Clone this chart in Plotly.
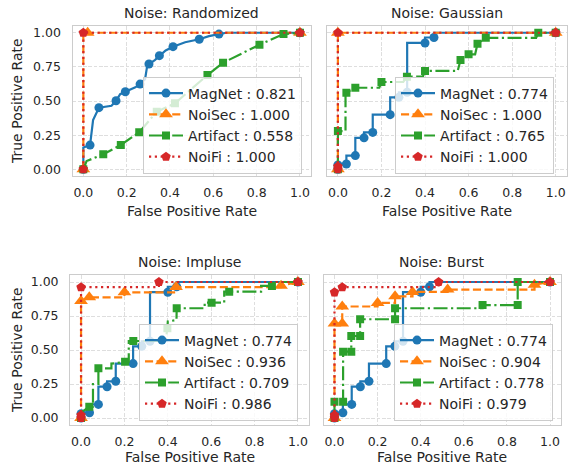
import plotly.graph_objects as go

# ---------------- data ----------------
panel_titles = ["Noise: Randomized", "Noise: Gaussian", "Noise: Impluse", "Noise: Burst"]
series_names = ["MagNet", "NoiSec", "Artifact", "NoiFi"]

x_ticks = [0.0, 0.2, 0.4, 0.6, 0.8, 1.0]
x_tick_labels = ["0.0", "0.2", "0.4", "0.6", "0.8", "1.0"]
y_ticks = [0.0, 0.25, 0.5, 0.75, 1.0]
y_tick_labels = ["0.00", "0.25", "0.50", "0.75", "1.00"]

# AUC values shown in each legend (panel order)
auc_magnet = [0.821, 0.774, 0.774, 0.774]
auc_noisec = [1.000, 1.000, 0.936, 0.904]
auc_artifact = [0.558, 0.765, 0.709, 0.778]
auc_noifi = [1.000, 1.000, 0.986, 0.979]

# --- Randomized ---
rand_magnet_fpr = [0, 0, 0.031, 0.045, 0.072, 0.13, 0.151, 0.17, 0.194, 0.24, 0.262, 0.285, 0.295, 0.303, 0.33, 0.351, 0.38, 0.414, 0.47, 0.535, 0.58, 0.626, 0.66, 1.0]
rand_magnet_tpr = [0, 0.16, 0.177, 0.36, 0.451, 0.465, 0.502, 0.55, 0.568, 0.60, 0.624, 0.66, 0.76, 0.771, 0.80, 0.832, 0.87, 0.898, 0.93, 0.952, 0.975, 0.990, 1.0, 1.0]
rand_magnet_mk = [1, 0, 1, 0, 1, 0, 1, 0, 1, 0, 1, 0, 0, 1, 0, 1, 0, 1, 0, 1, 0, 1, 0, 1]

rand_noisec_fpr = [0, 0, 0.02, 1.0]
rand_noisec_tpr = [0, 1.0, 1.0, 1.0]
rand_noisec_mk = [1, 0, 1, 1]

rand_artifact_fpr = [0, 0.015, 0.092, 0.173, 0.258, 0.339, 0.423, 0.573, 0.645, 0.813, 0.924, 1.0]
rand_artifact_tpr = [0, 0.06, 0.110, 0.178, 0.271, 0.422, 0.483, 0.690, 0.780, 0.912, 0.990, 1.0]
rand_artifact_mk = [1, 0, 1, 1, 1, 1, 1, 1, 1, 1, 1, 1]

rand_noifi_fpr = [0, 0, 1.0]
rand_noifi_tpr = [0, 1.0, 1.0]
rand_noifi_mk = [1, 1, 1]

# --- MagNet curve shared by Gaussian / Impluse / Burst ---
magnet_fpr = [0, 0, 0, 0.039, 0.039, 0.080, 0.080, 0.120, 0.120, 0.160, 0.160, 0.240, 0.240, 0.280, 0.280, 0.318, 0.318, 0.400, 0.400, 0.441, 0.441, 1.0]
magnet_tpr = [0, 0.031, 0.039, 0.039, 0.10, 0.10, 0.23, 0.23, 0.27, 0.27, 0.40, 0.40, 0.527, 0.527, 0.564, 0.564, 0.925, 0.925, 0.965, 0.965, 1.0, 1.0]
magnet_mk = [1, 1, 0, 1, 0, 1, 0, 1, 0, 1, 0, 1, 0, 1, 0, 1, 0, 1, 0, 1, 0, 1]

# --- Gaussian ---
gaus_noisec_fpr = [0, 0, 1.0]
gaus_noisec_tpr = [0, 1.0, 1.0]
gaus_noisec_mk = [1, 1, 1]

gaus_artifact_fpr = [0, 0, 0.035, 0.035, 0.039, 0.080, 0.190, 0.200, 0.300, 0.317, 0.390, 0.400, 0.550, 0.563, 0.600, 0.630, 0.641, 0.679, 0.910, 0.920, 1.0]
gaus_artifact_tpr = [0, 0.280, 0.280, 0.555, 0.561, 0.597, 0.597, 0.639, 0.639, 0.678, 0.678, 0.720, 0.720, 0.800, 0.842, 0.842, 0.920, 0.963, 0.963, 1.0, 1.0]
gaus_artifact_mk = [1, 1, 0, 0, 1, 1, 0, 1, 0, 1, 0, 1, 0, 1, 1, 0, 1, 1, 0, 1, 1]

gaus_noifi_fpr = [0, 0, 0, 1.0]
gaus_noifi_tpr = [0, 0.02, 1.0, 1.0]
gaus_noifi_mk = [1, 1, 1, 1]

# --- Impluse ---
imp_noisec_fpr = [0, 0, 0.038, 0.200, 0.200, 0.438, 0.438, 0.922, 0.922, 1.0]
imp_noisec_tpr = [0, 0.860, 0.887, 0.887, 0.924, 0.924, 0.963, 0.963, 0.972, 1.0]
imp_noisec_mk = [1, 1, 1, 0, 1, 0, 1, 0, 1, 1]

imp_artifact_fpr = [0, 0, 0.038, 0.055, 0.055, 0.080, 0.080, 0.140, 0.140, 0.203, 0.220, 0.220, 0.241, 0.390, 0.398, 0.400, 0.440, 0.441, 0.570, 0.570, 0.602, 0.660, 0.660, 0.683, 0.830, 0.830, 0.880, 0.900, 1.0]
imp_artifact_tpr = [0, 0.04, 0.083, 0.083, 0.25, 0.25, 0.365, 0.365, 0.40, 0.414, 0.414, 0.566, 0.566, 0.566, 0.660, 0.710, 0.720, 0.807, 0.807, 0.848, 0.848, 0.848, 0.929, 0.929, 0.929, 0.971, 0.971, 1.0, 1.0]
imp_artifact_mk = [1, 0, 1, 0, 0, 0, 1, 0, 0, 1, 0, 0, 1, 0, 1, 0, 0, 1, 0, 0, 1, 0, 0, 1, 0, 0, 1, 0, 1]

imp_noifi_fpr = [0, 0, 0, 0.359, 0.359, 1.0]
imp_noifi_tpr = [0, 0.02, 0.962, 0.962, 1.0, 1.0]
imp_noifi_mk = [1, 1, 1, 0, 1, 1]

# --- Burst ---
bur_noisec_fpr = [0, 0, 0.036, 0.036, 0.200, 0.200, 0.281, 0.281, 0.362, 0.362, 0.525, 0.525, 0.928, 0.928, 1.0]
bur_noisec_tpr = [0, 0.694, 0.694, 0.820, 0.820, 0.846, 0.846, 0.895, 0.895, 0.927, 0.927, 0.944, 0.944, 0.980, 1.0]
bur_noisec_mk = [1, 1, 1, 1, 0, 1, 0, 1, 0, 1, 0, 1, 0, 1, 1]

bur_artifact_fpr = [0, 0, 0.040, 0.040, 0.078, 0.078, 0.119, 0.119, 0.281, 0.281, 0.687, 0.687, 0.850, 0.850, 1.0]
bur_artifact_tpr = [0, 0.120, 0.120, 0.488, 0.488, 0.603, 0.603, 0.726, 0.726, 0.807, 0.807, 0.830, 0.830, 1.0, 1.0]
bur_artifact_mk = [1, 1, 1, 1, 1, 1, 1, 1, 1, 1, 0, 1, 1, 1, 1]

bur_noifi_fpr = [0, 0, 0, 0.036, 0.483, 0.483, 1.0]
bur_noifi_tpr = [0, 0.02, 0.924, 0.962, 0.962, 1.0, 1.0]
bur_noifi_mk = [1, 1, 1, 1, 0, 1, 1]

panels = [
    [(rand_magnet_fpr, rand_magnet_tpr, rand_magnet_mk),
     (rand_noisec_fpr, rand_noisec_tpr, rand_noisec_mk),
     (rand_artifact_fpr, rand_artifact_tpr, rand_artifact_mk),
     (rand_noifi_fpr, rand_noifi_tpr, rand_noifi_mk)],
    [(magnet_fpr, magnet_tpr, magnet_mk),
     (gaus_noisec_fpr, gaus_noisec_tpr, gaus_noisec_mk),
     (gaus_artifact_fpr, gaus_artifact_tpr, gaus_artifact_mk),
     (gaus_noifi_fpr, gaus_noifi_tpr, gaus_noifi_mk)],
    [(magnet_fpr, magnet_tpr, magnet_mk),
     (imp_noisec_fpr, imp_noisec_tpr, imp_noisec_mk),
     (imp_artifact_fpr, imp_artifact_tpr, imp_artifact_mk),
     (imp_noifi_fpr, imp_noifi_tpr, imp_noifi_mk)],
    [(magnet_fpr, magnet_tpr, magnet_mk),
     (bur_noisec_fpr, bur_noisec_tpr, bur_noisec_mk),
     (bur_artifact_fpr, bur_artifact_tpr, bur_artifact_mk),
     (bur_noifi_fpr, bur_noifi_tpr, bur_noifi_mk)],
]
aucs = [auc_magnet, auc_noisec, auc_artifact, auc_noifi]

# ---------------- styles ----------------
FONT = "DejaVu Sans"
TXT = "#262626"
LW = 2.2
styles = [
    dict(color="#1f77b4", dash="solid", symbol="circle", size=9),
    dict(color="#ff7f0e", dash="8.1px,3.5px", symbol="triangle-up", size=12),
    dict(color="#2ca02c", dash="14px,3.5px,2.2px,3.5px", symbol="square", size=8),
    dict(color="#d62728", dash="2.2px,3.6px", symbol="pentagon", size=10),
]

W, H = 568, 469
def px_x(a, b):
    return [a / W, b / W]
def px_y(top, bottom):
    return [1 - bottom / H, 1 - top / H]

x_domains = [px_x(72.5, 310.8), px_x(327.0, 566.6), px_x(70.2, 308.8), px_x(323.7, 560.8)]
y_domains = [px_y(25.9, 176.1), px_y(25.9, 176.1), px_y(275.2, 424.8), px_y(275.2, 424.8)]
legend_pos = [(302 / W, 1 - 173.5 / H), (554 / W, 1 - 173.5 / H), (298 / W, 1 - 420.5 / H), (553 / W, 1 - 420.5 / H)]

fig = go.Figure()

for p in range(4):
    sfx = "" if p == 0 else str(p + 1)
    xa, ya = "x" + sfx, "y" + sfx
    leg = "legend" + sfx
    for s, (fx, ty, mk) in enumerate(panels[p]):
        st = styles[s]
        fig.add_trace(go.Scatter(
            x=fx, y=ty, mode="lines", xaxis=xa, yaxis=ya, showlegend=False, hoverinfo="skip",
            line=dict(color=st["color"], width=LW, dash=st["dash"])))
        mx = [v for v, m in zip(fx, mk) if m]
        my = [v for v, m in zip(ty, mk) if m]
        fig.add_trace(go.Scatter(
            x=mx, y=my, mode="markers", xaxis=xa, yaxis=ya, showlegend=False,
            marker=dict(color=st["color"], symbol=st["symbol"], size=st["size"], line=dict(width=0))))
    for s in range(4):
        st = styles[s]
        fig.add_trace(go.Scatter(
            x=[None], y=[None], mode="lines+markers", xaxis=xa, yaxis=ya, legend=leg,
            name=f"{series_names[s]} : {aucs[s][p]:.3f}",
            line=dict(color=st["color"], width=LW, dash=st["dash"]),
            marker=dict(color=st["color"], symbol=st["symbol"], size=st["size"], line=dict(width=0))))

layout = dict(
    width=W, height=H, margin=dict(l=0, r=0, t=0, b=0),
    paper_bgcolor="white", plot_bgcolor="white",
    font=dict(family=FONT, color=TXT, size=14),
)
axis_common = dict(
    showline=True, mirror=True, linecolor="#cccccc", linewidth=1.25,
    showgrid=True, gridcolor="#dedede", gridwidth=1, griddash="3.7px,1.6px",
    zeroline=False, ticks="", range=[-0.05, 1.05], automargin=False,
    tickfont=dict(family=FONT, size=12.5, color=TXT),
)
for p in range(4):
    sfx = "" if p == 0 else str(p + 1)
    layout["xaxis" + sfx] = dict(axis_common, domain=x_domains[p], anchor="y" + sfx,
                                 tickvals=x_ticks, ticktext=x_tick_labels, ticklabelstandoff=5)
    layout["yaxis" + sfx] = dict(axis_common, domain=y_domains[p], anchor="x" + sfx,
                                 tickvals=y_ticks, ticktext=y_tick_labels, ticklabelstandoff=8,
                                 showticklabels=(p % 2 == 0))
    lx, ly = legend_pos[p]
    layout["legend" + sfx] = dict(
        x=lx, y=ly, xanchor="right", yanchor="bottom", itemwidth=34,
        bgcolor="rgba(255,255,255,0.8)", bordercolor="#cccccc", borderwidth=1,
        font=dict(family=FONT, size=14, color=TXT), traceorder="normal")

fig.update_layout(**layout)

annotations = []
title_y = [1 - 13 / H, 1 - 13 / H, 1 - 262 / H, 1 - 262 / H]
xlabel_y = [1 - 211 / H, 1 - 211 / H, 1 - 457 / H, 1 - 457 / H]
for p in range(4):
    cx = (x_domains[p][0] + x_domains[p][1]) / 2
    annotations.append(dict(text=panel_titles[p], x=cx, y=title_y[p], xref="paper", yref="paper",
                            xanchor="center", yanchor="middle", showarrow=False,
                            font=dict(family=FONT, size=14, color=TXT)))
    annotations.append(dict(text="False Positive Rate", x=cx, y=xlabel_y[p], xref="paper", yref="paper",
                            xanchor="center", yanchor="middle", showarrow=False,
                            font=dict(family=FONT, size=14, color=TXT)))
for p in (0, 2):
    cy = (y_domains[p][0] + y_domains[p][1]) / 2
    annotations.append(dict(text="True Positive Rate", x=17 / W, y=cy, xref="paper", yref="paper",
                            xanchor="center", yanchor="middle", showarrow=False, textangle=-90,
                            font=dict(family=FONT, size=14, color=TXT)))
fig.update_layout(annotations=annotations)

fig.write_html("out.html", config={"displayModeBar": False},
               post_script="document.body.style.margin='0';document.body.style.overflow='hidden';")
